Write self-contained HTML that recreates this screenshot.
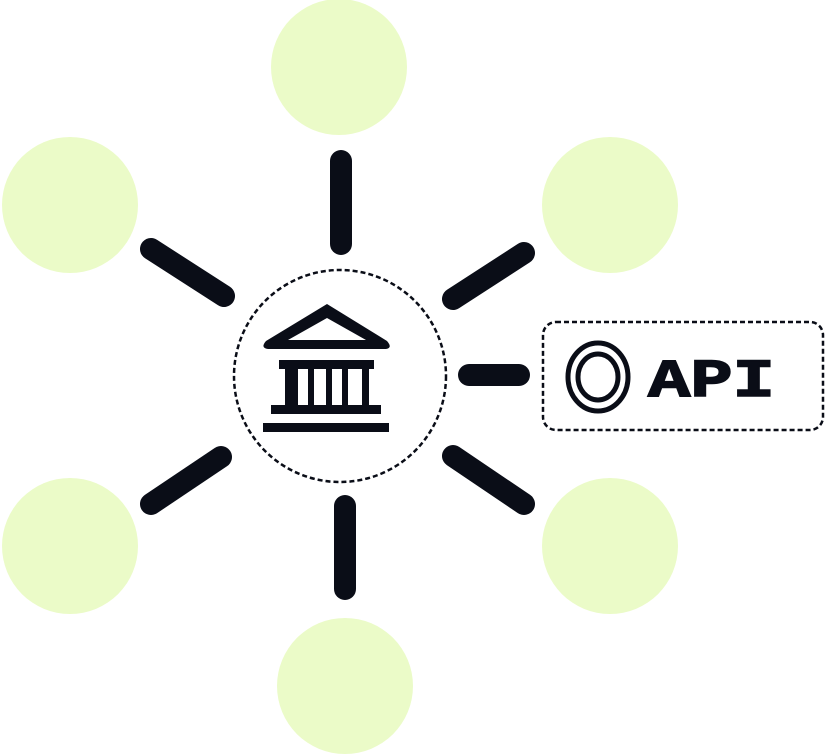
<!DOCTYPE html>
<html><head><style>html,body{margin:0;padding:0;background:#fff;width:828px;height:756px;overflow:hidden}</style></head>
<body>
<svg width="828" height="756" viewBox="0 0 828 756" xmlns="http://www.w3.org/2000/svg">
<g fill="#ebfbc8">
<circle cx="339" cy="67" r="68"/>
<circle cx="70" cy="205" r="68"/>
<circle cx="610" cy="205" r="68"/>
<circle cx="70" cy="546" r="68"/>
<circle cx="610" cy="546" r="68"/>
<circle cx="345" cy="686" r="68"/>
</g>
<g stroke="#0a0d17" stroke-width="22" stroke-linecap="round">
<line x1="341" y1="161" x2="341" y2="244"/>
<line x1="151" y1="249" x2="224" y2="296"/>
<line x1="453" y1="299" x2="524" y2="253"/>
<line x1="469" y1="375" x2="519" y2="375"/>
<line x1="151" y1="504" x2="221" y2="457"/>
<line x1="453" y1="456" x2="524" y2="504"/>
<line x1="345" y1="506" x2="345" y2="589"/>
</g>
<ellipse cx="340" cy="376" rx="106" ry="106" fill="#fff" stroke="#0a0d17" stroke-width="2.5" stroke-dasharray="5,3"/>
<rect x="543" y="322" width="280" height="108" rx="13" fill="#fff" stroke="#0a0d17" stroke-width="2.5" stroke-dasharray="5,3"/>
<ellipse cx="598" cy="377" rx="30" ry="34" fill="none" stroke="#0a0d17" stroke-width="5"/>
<ellipse cx="598" cy="377" rx="20" ry="23" fill="none" stroke="#0a0d17" stroke-width="5"/>
<text x="648" y="396" font-family="Liberation Mono, monospace" font-weight="bold" font-size="54" textLength="127" lengthAdjust="spacingAndGlyphs" fill="#0a0d17" stroke="#0a0d17" stroke-width="1.5">API</text>
<g fill="#0a0d17">
<path d="M327 304 L266 341 Q260 348 268 349 L386 349 Q393 348 387 341 Z M327 318 L366 340 L288 340 Z" fill-rule="evenodd"/>
<rect x="279" y="360" width="95" height="9"/>
<rect x="285" y="369" width="13" height="37"/>
<rect x="308" y="369" width="6" height="37"/>
<rect x="326" y="369" width="6" height="37"/>
<rect x="342" y="369" width="6" height="37"/>
<rect x="362" y="369" width="7" height="37"/>
<rect x="271" y="405" width="110" height="9"/>
<rect x="263" y="423" width="126" height="9"/>
</g>
</svg>
</body></html>
